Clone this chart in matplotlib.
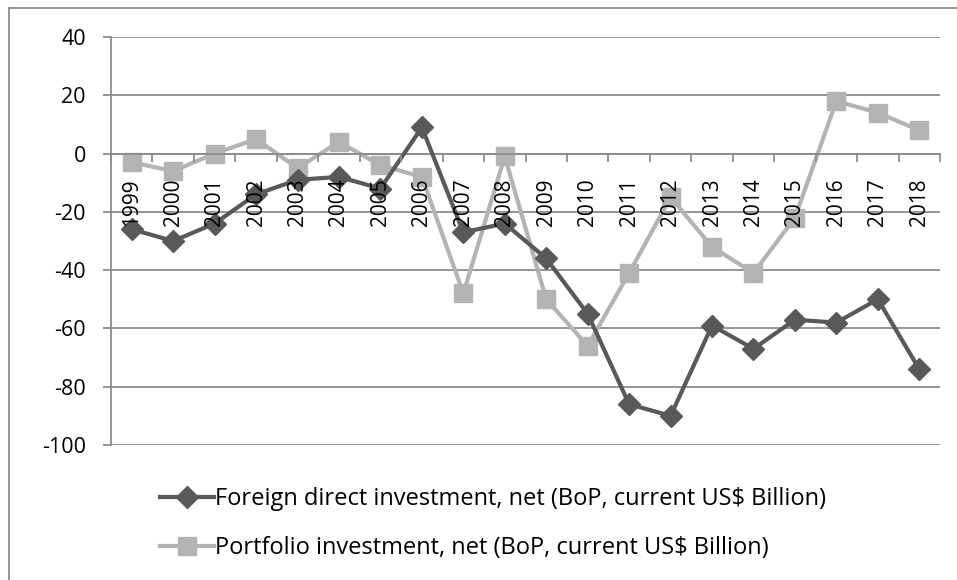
import matplotlib
matplotlib.use('Agg')
import matplotlib.pyplot as plt
from matplotlib.lines import Line2D

years = [str(y) for y in range(1999, 2019)]
fdi = [-26, -30, -24, -14, -9, -8, -12, 9, -27, -24, -36, -55, -86, -90, -59, -67, -57, -58, -50, -74]
portfolio = [-3, -6, 0, 5, -5, 4, -4, -8, -48, -1, -50, -66, -41, -15, -32, -41, -22, 18, 14, 8]
fdi_label = 'Foreign direct investment, net (BoP, current US$ Billion)'
pf_label = 'Portfolio investment, net (BoP, current US$ Billion)'

plt.rcParams['font.family'] = ['Open Sans', 'DejaVu Sans']
plt.rcParams['axes.unicode_minus'] = False

dark = '#595959'
light = '#b3b3b3'
grid_c = '#8c8c8c'

fig = plt.figure(figsize=(9.57, 5.80), dpi=100)
ax = fig.add_axes([111/957, 1-445/580, 829/957, 408/580])

x = list(range(len(years)))
ax.plot(x, fdi, color=dark, lw=3, marker='D', ms=11, label=fdi_label, zorder=3)
ax.plot(x, portfolio, color=light, lw=3, marker='s', ms=13, label=pf_label, zorder=2)

ax.set_xlim(-0.5, len(years) - 0.5)
ax.set_ylim(-100, 40)
ax.set_yticks(range(-100, 41, 20))
ax.yaxis.grid(True, color=grid_c, lw=1.3)
ax.set_axisbelow(True)

for s in ['top', 'right']:
    ax.spines[s].set_visible(False)
ax.spines['left'].set_color(grid_c)
ax.spines['left'].set_linewidth(1.3)
ax.spines['bottom'].set_position(('data', 0))
ax.spines['bottom'].set_color(grid_c)
ax.spines['bottom'].set_linewidth(1.3)

ax.set_xticks(x)
ax.set_xticklabels(years, rotation=90, fontsize=15, va='top')
ax.set_xticks([i - 0.5 for i in range(len(years) + 1)], minor=True)
ax.tick_params(axis='x', which='major', length=0, pad=18)
ax.tick_params(axis='x', which='minor', length=6, width=1.3, color=grid_c, direction='out')
ax.tick_params(axis='y', length=6, width=1.3, color=grid_c, labelsize=15.5, pad=12)
# year labels sit on top of the lines
ax.xaxis.set_zorder(5)

fig.legend(loc='upper left', bbox_to_anchor=(160/957, 1-487/580), frameon=False,
           fontsize=17, handlelength=2.3, handletextpad=0.05, labelspacing=1.05,
           borderaxespad=0, borderpad=0)

# outer chart frame, cropped at right and bottom
fig.add_artist(Line2D([9/957, 1], [1-8/580, 1-8/580], color=grid_c, lw=1.3, transform=fig.transFigure))
fig.add_artist(Line2D([9/957, 9/957], [0, 1-8/580], color=grid_c, lw=1.3, transform=fig.transFigure))

fig.savefig('out.png', dpi=100)
